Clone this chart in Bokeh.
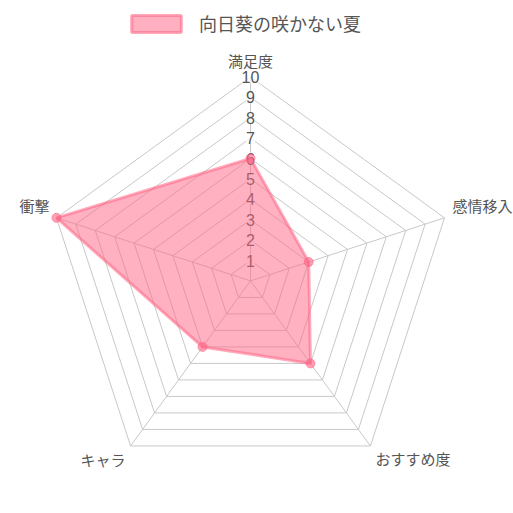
import numpy as np
from bokeh.plotting import figure
from bokeh.models import Range1d, Legend, LegendItem, ColumnDataSource
from bokeh.core.properties import value
from bokeh.embed import file_html
from bokeh.resources import INLINE

categories = ["満足度", "感情移入", "おすすめ度", "キャラ", "衝撃"]
series_name = "向日葵の咲かない夏"
values = [6, 3, 5, 4, 10]
tick_labels = ["1", "2", "3", "4", "5", "6", "7", "8", "9", "10"]
r_max = 10

W = H = 513
S = 20.4          # px per unit
cx, cy = 250, 280.4

p = figure(width=W, height=H, output_backend="svg", toolbar_location=None,
           x_range=Range1d(-cx / S, (W - cx) / S),
           y_range=Range1d(-(H - cy) / S, cy / S),
           min_border=0, outline_line_color=None)
p.axis.visible = False
p.grid.visible = False
p.background_fill_color = "white"
p.border_fill_color = "white"

n = len(categories)
ang = np.deg2rad(90 - 72 * np.arange(n))
cosA, sinA = np.cos(ang), np.sin(ang)

grid_col = "#c8c8c8"
# polygon grid
xs, ys = [], []
for k in range(1, r_max + 1):
    xs.append(list(k * cosA) + [k * cosA[0]])
    ys.append(list(k * sinA) + [k * sinA[0]])
p.multi_line(xs, ys, line_color=grid_col, line_width=1)
# angle lines
p.multi_line([[0, r_max * c] for c in cosA], [[0, r_max * s] for s in sinA],
             line_color=grid_col, line_width=1)

# tick labels (drawn under dataset)
tick_vals = [int(t) for t in tick_labels]
p.text(x=[0] * len(tick_vals), y=tick_vals, text=tick_labels,
       text_align="center", text_baseline="middle",
       text_font=value("Liberation Sans"), text_font_size="16px",
       text_color="#555555",
       background_fill_color="white", background_fill_alpha=0.75)

# dataset
vx = [v * c for v, c in zip(values, cosA)]
vy = [v * s for v, s in zip(values, sinA)]
patch = p.patch(vx, vy, fill_color="rgb(255,99,132)", fill_alpha=0.5,
                line_color="rgb(255,99,132)", line_alpha=0.55, line_width=3)
p.scatter(vx, vy, size=9, fill_color="rgb(255,99,132)", fill_alpha=0.6,
          line_color="rgb(255,99,132)", line_alpha=0.6, line_width=1)

# point labels
lab_x_off = [0, 8, 5, -5, -7]
lab_y_off = [-16, -12, 13, 14, -12]
lab_align = ["center", "left", "left", "right", "right"]
src = ColumnDataSource(dict(x=list(r_max * cosA), y=list(r_max * sinA), t=categories,
                            xo=lab_x_off, yo=lab_y_off, al=lab_align))
p.text(x="x", y="y", text="t", x_offset="xo", y_offset="yo", text_align="al",
       text_baseline="middle", source=src,
       text_font=value("Noto Sans CJK JP"), text_font_size="15px",
       text_color="#555555")

legend = Legend(items=[LegendItem(label=series_name, renderers=[patch])],
                location=(125, 477), orientation="horizontal",
                glyph_width=62, glyph_height=21, padding=0, margin=0,
                label_standoff=12, spacing=0,
                label_text_font="Noto Sans CJK JP", label_text_font_size="18px",
                label_text_color="#555555", label_text_baseline="middle",
                background_fill_alpha=0, border_line_color=None)
p.add_layout(legend)

open("out.html", "w").write(file_html(p, INLINE))
